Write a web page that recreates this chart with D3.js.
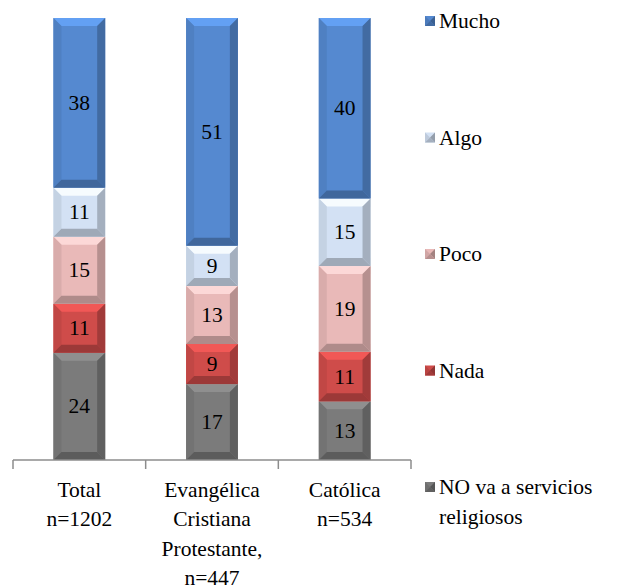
<!DOCTYPE html>
<html>
<head>
<meta charset="utf-8">
<script src="https://cdn.jsdelivr.net/npm/d3@7"></script>
</head>
<body style="margin:0">
<script>
const categories = ["Total", "Evangélica", "Católica"]
const categoryLabels = [
  ["Total", "n=1202"],
  ["Evangélica", "Cristiana", "Protestante,", "n=447"],
  ["Católica", "n=534"]
]
const seriesKeys = ["NO", "Nada", "Poco", "Algo", "Mucho"]
const seriesNames = ["NO va a servicios religiosos", "Nada", "Poco", "Algo", "Mucho"]
const noVa = [24, 17, 13]
const nada = [11, 9, 11]
const poco = [15, 13, 19]
const algo = [11, 9, 15]
const mucho = [38, 51, 40]

const colors = { NO: "#7b7b7b", Nada: "#cf4c4a", Poco: "#e9b9b8", Algo: "#d3e1f4", Mucho: "#5589d0" }

const width = 630, height = 588
const margin = { top: 18, left: 13, right: 219, bottom: 128 }

const rows = categories.map((c, i) => ({
  cat: c, NO: noVa[i], Nada: nada[i], Poco: poco[i], Algo: algo[i], Mucho: mucho[i]
}))

const stacked = d3.stack().keys(seriesKeys).offset(d3.stackOffsetExpand)(rows)

const svg = d3.select("body").append("svg")
  .attr("width", width).attr("height", height)

const x = d3.scaleBand().domain(categories)
  .range([margin.left, width - margin.right]).paddingInner(0.61).paddingOuter(0.305)
const y = d3.scaleLinear().domain([0, 1]).range([height - margin.bottom, margin.top])

// bevel-like segments
const bev = 8
function bevel(g, x0, y0, w, h, col) {
  const b = Math.min(bev, h / 2.5)
  g.append("rect").attr("x", x0).attr("y", y0).attr("width", w).attr("height", h).attr("fill", col)
  const c = d3.color(col)
  const top = [[x0, y0], [x0 + w, y0], [x0 + w - b, y0 + b], [x0 + b, y0 + b]]
  const bot = [[x0, y0 + h], [x0 + w, y0 + h], [x0 + w - b, y0 + h - b], [x0 + b, y0 + h - b]]
  const lft = [[x0, y0], [x0 + b, y0 + b], [x0 + b, y0 + h - b], [x0, y0 + h]]
  const rgt = [[x0 + w, y0], [x0 + w - b, y0 + b], [x0 + w - b, y0 + h - b], [x0 + w, y0 + h]]
  const line = d3.line()
  g.append("path").attr("d", line(top) + "Z").attr("fill", c.brighter(0.5)).attr("opacity", 0.85)
  g.append("path").attr("d", line(lft) + "Z").attr("fill", c.darker(0.2))
  g.append("path").attr("d", line(rgt) + "Z").attr("fill", c.darker(0.7))
  g.append("path").attr("d", line(bot) + "Z").attr("fill", c.darker(0.8))
}

function label(sel) {
  return sel.append("text")
    .style("font-family", '"Times New Roman", Tinos, "Liberation Serif", "DejaVu Serif", serif')
    .style("font-size", "21.5px")
}

stacked.forEach(s => {
  s.forEach(d => {
    const g = svg.append("g")
    const x0 = x(d.data.cat), w = x.bandwidth()
    const y0 = y(d[1]), h = y(d[0]) - y(d[1])
    bevel(g, x0, y0, w, h, colors[s.key])
    label(svg)
      .attr("x", x0 + w / 2).attr("y", y0 + h / 2 + 7)
      .attr("text-anchor", "middle").attr("fill", "#000")
      .text(d.data[s.key])
  })
})

// axis
const axisY = height - margin.bottom
svg.append("line").attr("x1", margin.left).attr("x2", width - margin.right)
  .attr("y1", axisY).attr("y2", axisY).attr("stroke", "#8c8c8c").attr("stroke-width", 1.5)
const tickXs = categories.map(c => x(c) - x.step() * x.paddingInner() / 2)
tickXs.push(width - margin.right)
svg.selectAll(".tick").data(tickXs).join("line")
  .attr("x1", d => d).attr("x2", d => d).attr("y1", axisY).attr("y2", axisY + 9)
  .attr("stroke", "#8c8c8c").attr("stroke-width", 1.5)

categoryLabels.forEach((lines, i) => {
  const cx = x(categories[i]) + x.bandwidth() / 2
  lines.forEach((l, j) => label(svg).attr("text-anchor", "middle")
    .attr("x", cx).attr("y", 497 + j * 29.3).text(l))
})

// legend
const legendOrder = ["Mucho", "Algo", "Poco", "Nada", "NO"]
const legendY = d3.scalePoint().domain(legendOrder).range([21, 487])
legendOrder.forEach(k => {
  const cy = legendY(k)
  const g = svg.append("g")
  const c = d3.color(colors[k])
  const lx = 425, s = 10
  g.append("rect").attr("x", lx).attr("y", cy - s / 2).attr("width", s).attr("height", s).attr("fill", c)
  g.append("path").attr("d", `M${lx},${cy - s / 2}L${lx + s / 2},${cy}L${lx},${cy + s / 2}Z`).attr("fill", c.darker(0.3))
  g.append("path").attr("d", `M${lx + s},${cy - s / 2}L${lx + s / 2},${cy}L${lx + s},${cy + s / 2}Z`).attr("fill", c.darker(1))
  g.append("path").attr("d", `M${lx},${cy + s / 2}L${lx + s / 2},${cy}L${lx + s},${cy + s / 2}Z`).attr("fill", c.darker(0.7))
  if (k === "NO") {
    label(svg).attr("x", 439).attr("y", cy + 7).text("NO va a servicios")
    label(svg).attr("x", 439).attr("y", cy + 37).text("religiosos")
  } else {
    label(svg).attr("x", 439).attr("y", cy + 7).text(seriesNames[seriesKeys.indexOf(k)])
  }
})
</script>
</body>
</html>
